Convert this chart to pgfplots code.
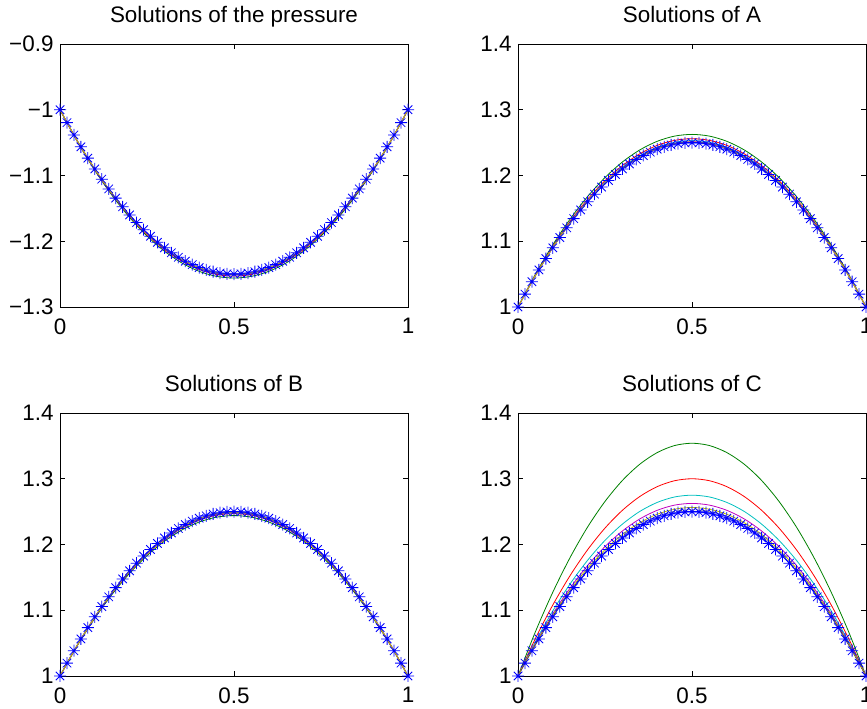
\documentclass[border=0pt]{standalone}
\usepackage{pgfplots}
\usepackage{pgfplotstable}
\pgfplotsset{compat=1.18}
\usepackage{fontspec}
\setmainfont{Liberation Sans}

\definecolor{mg}{rgb}{0,0.5,0}
\definecolor{mc}{rgb}{0,0.75,0.75}
\definecolor{mm}{rgb}{0.75,0,0.75}
\definecolor{my}{rgb}{0.75,0.75,0}
\definecolor{mk}{rgb}{0.25,0.25,0.25}

\pgfdeclareplotmark{mstar}{%
 \pgfpathmoveto{\pgfqpoint{-\pgfplotmarksize}{0pt}}\pgfpathlineto{\pgfqpoint{\pgfplotmarksize}{0pt}}%
 \pgfpathmoveto{\pgfqpoint{0pt}{-\pgfplotmarksize}}\pgfpathlineto{\pgfqpoint{0pt}{\pgfplotmarksize}}%
 \pgfpathmoveto{\pgfqpoint{-.7071\pgfplotmarksize}{-.7071\pgfplotmarksize}}\pgfpathlineto{\pgfqpoint{.7071\pgfplotmarksize}{.7071\pgfplotmarksize}}%
 \pgfpathmoveto{\pgfqpoint{-.7071\pgfplotmarksize}{.7071\pgfplotmarksize}}\pgfpathlineto{\pgfqpoint{.7071\pgfplotmarksize}{-.7071\pgfplotmarksize}}%
 \pgfusepathqstroke}

% exact solution (blue stars)
\pgfplotstableread{
x y
0 1
0.02 1.0196
0.04 1.0384
0.06 1.0564
0.08 1.0736
0.10 1.0900
0.12 1.1056
0.14 1.1204
0.16 1.1344
0.18 1.1476
0.20 1.1600
0.22 1.1716
0.24 1.1824
0.26 1.1924
0.28 1.2016
0.30 1.2100
0.32 1.2176
0.34 1.2244
0.36 1.2304
0.38 1.2356
0.40 1.2400
0.42 1.2436
0.44 1.2464
0.46 1.2484
0.48 1.2496
0.50 1.2500
0.52 1.2496
0.54 1.2484
0.56 1.2464
0.58 1.2436
0.60 1.2400
0.62 1.2356
0.64 1.2304
0.66 1.2244
0.68 1.2176
0.70 1.2100
0.72 1.2016
0.74 1.1924
0.76 1.1824
0.78 1.1716
0.80 1.1600
0.82 1.1476
0.84 1.1344
0.86 1.1204
0.88 1.1056
0.90 1.0900
0.92 1.0736
0.94 1.0564
0.96 1.0384
0.98 1.0196
1 1
}\exact

\pgfplotstableread{
x y
0 -1
0.02 -1.0196
0.04 -1.0384
0.06 -1.0564
0.08 -1.0736
0.10 -1.0900
0.12 -1.1056
0.14 -1.1204
0.16 -1.1344
0.18 -1.1476
0.20 -1.1600
0.22 -1.1716
0.24 -1.1824
0.26 -1.1924
0.28 -1.2016
0.30 -1.2100
0.32 -1.2176
0.34 -1.2244
0.36 -1.2304
0.38 -1.2356
0.40 -1.2400
0.42 -1.2436
0.44 -1.2464
0.46 -1.2484
0.48 -1.2496
0.50 -1.2500
0.52 -1.2496
0.54 -1.2484
0.56 -1.2464
0.58 -1.2436
0.60 -1.2400
0.62 -1.2356
0.64 -1.2304
0.66 -1.2244
0.68 -1.2176
0.70 -1.2100
0.72 -1.2016
0.74 -1.1924
0.76 -1.1824
0.78 -1.1716
0.80 -1.1600
0.82 -1.1476
0.84 -1.1344
0.86 -1.1204
0.88 -1.1056
0.90 -1.0900
0.92 -1.0736
0.94 -1.0564
0.96 -1.0384
0.98 -1.0196
1 -1
}\exactP

\pgfplotstableread{
x g r c m yl
0 -1 -1 -1 -1 -1
0.05 -1.0486 -1.0481 -1.0478 -1.0477 -1.0476
0.10 -1.0922 -1.0911 -1.0905 -1.0904 -1.0902
0.15 -1.1306 -1.1290 -1.1283 -1.1280 -1.1278
0.20 -1.1638 -1.1619 -1.1610 -1.1606 -1.1603
0.25 -1.1920 -1.1898 -1.1886 -1.1883 -1.1879
0.30 -1.2150 -1.2125 -1.2113 -1.2108 -1.2104
0.35 -1.2330 -1.2302 -1.2289 -1.2284 -1.2280
0.40 -1.2458 -1.2429 -1.2414 -1.2410 -1.2405
0.45 -1.2534 -1.2505 -1.2490 -1.2485 -1.2480
0.50 -1.2560 -1.2530 -1.2515 -1.2510 -1.2505
0.55 -1.2534 -1.2505 -1.2490 -1.2485 -1.2480
0.60 -1.2458 -1.2429 -1.2414 -1.2410 -1.2405
0.65 -1.2330 -1.2302 -1.2289 -1.2284 -1.2280
0.70 -1.2150 -1.2125 -1.2113 -1.2108 -1.2104
0.75 -1.1920 -1.1898 -1.1886 -1.1883 -1.1879
0.80 -1.1638 -1.1619 -1.1610 -1.1606 -1.1603
0.85 -1.1306 -1.1290 -1.1283 -1.1280 -1.1278
0.90 -1.0922 -1.0911 -1.0905 -1.0904 -1.0902
0.95 -1.0486 -1.0481 -1.0478 -1.0477 -1.0476
1 -1 -1 -1 -1 -1
}\tabP

\pgfplotstableread{
x g r c m yl
0 1 1 1 1 1
0.05 1.0499 1.0486 1.0481 1.0478 1.0477
0.10 1.0945 1.0922 1.0911 1.0905 1.0904
0.15 1.1339 1.1306 1.1290 1.1283 1.1280
0.20 1.1680 1.1638 1.1619 1.1610 1.1606
0.25 1.1969 1.1920 1.1898 1.1886 1.1883
0.30 1.2205 1.2150 1.2125 1.2113 1.2108
0.35 1.2389 1.2330 1.2302 1.2289 1.2284
0.40 1.2520 1.2458 1.2429 1.2414 1.2410
0.45 1.2599 1.2534 1.2505 1.2490 1.2485
0.50 1.2625 1.2560 1.2530 1.2515 1.2510
0.55 1.2599 1.2534 1.2505 1.2490 1.2485
0.60 1.2520 1.2458 1.2429 1.2414 1.2410
0.65 1.2389 1.2330 1.2302 1.2289 1.2284
0.70 1.2205 1.2150 1.2125 1.2113 1.2108
0.75 1.1969 1.1920 1.1898 1.1886 1.1883
0.80 1.1680 1.1638 1.1619 1.1610 1.1606
0.85 1.1339 1.1306 1.1290 1.1283 1.1280
0.90 1.0945 1.0922 1.0911 1.0905 1.0904
0.95 1.0499 1.0486 1.0481 1.0478 1.0477
1 1 1 1 1 1
}\tabA

\pgfplotstableread{
x g r c m yl
0 1 1 1 1 1
0.05 1.0464 1.0469 1.0471 1.0472 1.0473
0.10 1.0878 1.0889 1.0893 1.0895 1.0896
0.15 1.1244 1.1260 1.1265 1.1267 1.1270
0.20 1.1562 1.1581 1.1587 1.1590 1.1594
0.25 1.1830 1.1853 1.1860 1.1864 1.1868
0.30 1.2050 1.2075 1.2083 1.2087 1.2092
0.35 1.2220 1.2248 1.2257 1.2261 1.2266
0.40 1.2342 1.2371 1.2381 1.2386 1.2390
0.45 1.2416 1.2445 1.2455 1.2460 1.2465
0.50 1.2440 1.2470 1.2480 1.2485 1.2490
0.55 1.2416 1.2445 1.2455 1.2460 1.2465
0.60 1.2342 1.2371 1.2381 1.2386 1.2390
0.65 1.2220 1.2248 1.2257 1.2261 1.2266
0.70 1.2050 1.2075 1.2083 1.2087 1.2092
0.75 1.1830 1.1853 1.1860 1.1864 1.1868
0.80 1.1562 1.1581 1.1587 1.1590 1.1594
0.85 1.1244 1.1260 1.1265 1.1267 1.1270
0.90 1.0878 1.0889 1.0893 1.0895 1.0896
0.95 1.0464 1.0469 1.0471 1.0472 1.0473
1 1 1 1 1 1
}\tabB

\pgfplotstableread{
x g r c m yl k
0 1 1 1 1 1 1
0.05 1.0673 1.0570 1.0523 1.0499 1.0487 1.0481
0.10 1.1274 1.1080 1.0990 1.0945 1.0923 1.0911
0.15 1.1805 1.1530 1.1403 1.1339 1.1307 1.1290
0.20 1.2266 1.1920 1.1760 1.1680 1.1640 1.1619
0.25 1.2655 1.2250 1.2063 1.1969 1.1922 1.1898
0.30 1.2974 1.2520 1.2310 1.2205 1.2153 1.2125
0.35 1.3221 1.2730 1.2503 1.2389 1.2332 1.2302
0.40 1.3398 1.2880 1.2640 1.2520 1.2460 1.2429
0.45 1.3505 1.2970 1.2723 1.2599 1.2537 1.2505
0.50 1.3540 1.3000 1.2750 1.2625 1.2563 1.2530
0.55 1.3505 1.2970 1.2723 1.2599 1.2537 1.2505
0.60 1.3398 1.2880 1.2640 1.2520 1.2460 1.2429
0.65 1.3221 1.2730 1.2503 1.2389 1.2332 1.2302
0.70 1.2974 1.2520 1.2310 1.2205 1.2153 1.2125
0.75 1.2655 1.2250 1.2063 1.1969 1.1922 1.1898
0.80 1.2266 1.1920 1.1760 1.1680 1.1640 1.1619
0.85 1.1805 1.1530 1.1403 1.1339 1.1307 1.1290
0.90 1.1274 1.1080 1.0990 1.0945 1.0923 1.0911
0.95 1.0673 1.0570 1.0523 1.0499 1.0487 1.0481
1 1 1 1 1 1 1
}\tabC

\pgfplotsset{
  mstyle/.style={
    scale only axis, width=348bp, height=263bp,
    anchor=south west,
    xmin=0, xmax=1,
    xtick={0,0.5,1}, xticklabels={0,0.5,1},
    tick align=inside, major tick length=5bp,
    axis line style={line width=0.7bp, black},
    tick style={line width=0.7bp, black},
    every tick label/.append style={font=\fontsize{22.5}{26}\selectfont},
    xticklabel style={yshift=-8bp},
    yticklabel style={xshift=-3bp},
    title style={font=\fontsize{22.5}{26}\selectfont, at={(0.5,1)}, anchor=base, yshift=16bp},
    clip=false,
    every axis plot/.append style={line width=0.8bp},
  },
  exactstyle/.style={blue, mark=mstar, mark size=6bp, line width=0.8bp},
}

\begin{document}
\begin{tikzpicture}[x=1bp,y=1bp]
\path[use as bounding box] (0,0) rectangle (867,709);

% top left
\begin{axis}[mstyle, at={(60bp,402bp)},
  ymin=-1.3, ymax=-0.9, ytick={-1.3,-1.2,-1.1,-1,-0.9},
  yticklabels={−1.3,−1.2,−1.1,−1,−0.9},
  title={Solutions of the pressure}]
\addplot[exactstyle] table[x=x,y=y] {\exactP};
\addplot[mg, smooth, no markers] table[x=x,y=g] {\tabP};
\addplot[red, smooth, no markers] table[x=x,y=r] {\tabP};
\addplot[mc, smooth, no markers] table[x=x,y=c] {\tabP};
\addplot[mm, smooth, no markers] table[x=x,y=m] {\tabP};
\addplot[my, smooth, no markers] table[x=x,y=yl] {\tabP};
\end{axis}

% top right
\begin{axis}[mstyle, at={(518bp,402bp)},
  ymin=1, ymax=1.4, ytick={1,1.1,1.2,1.3,1.4},
  yticklabels={1,1.1,1.2,1.3,1.4},
  title={Solutions of A}]
\addplot[exactstyle] table[x=x,y=y] {\exact};
\addplot[mg, smooth, no markers] table[x=x,y=g] {\tabA};
\addplot[red, smooth, no markers] table[x=x,y=r] {\tabA};
\addplot[mc, smooth, no markers] table[x=x,y=c] {\tabA};
\addplot[mm, smooth, no markers] table[x=x,y=m] {\tabA};
\addplot[my, smooth, no markers] table[x=x,y=yl] {\tabA};
\end{axis}

% bottom left
\begin{axis}[mstyle, at={(60bp,33bp)},
  ymin=1, ymax=1.4, ytick={1,1.1,1.2,1.3,1.4},
  yticklabels={1,1.1,1.2,1.3,1.4},
  title={Solutions of B}]
\addplot[exactstyle] table[x=x,y=y] {\exact};
\addplot[mg, smooth, no markers] table[x=x,y=g] {\tabB};
\addplot[red, smooth, no markers] table[x=x,y=r] {\tabB};
\addplot[mc, smooth, no markers] table[x=x,y=c] {\tabB};
\addplot[mm, smooth, no markers] table[x=x,y=m] {\tabB};
\addplot[my, smooth, no markers] table[x=x,y=yl] {\tabB};
\end{axis}

% bottom right
\begin{axis}[mstyle, at={(518bp,33bp)},
  ymin=1, ymax=1.4, ytick={1,1.1,1.2,1.3,1.4},
  yticklabels={1,1.1,1.2,1.3,1.4},
  title={Solutions of C}]
\addplot[exactstyle] table[x=x,y=y] {\exact};
\addplot[mg, smooth, no markers] table[x=x,y=g] {\tabC};
\addplot[red, smooth, no markers] table[x=x,y=r] {\tabC};
\addplot[mc, smooth, no markers] table[x=x,y=c] {\tabC};
\addplot[mm, smooth, no markers] table[x=x,y=m] {\tabC};
\addplot[my, smooth, no markers] table[x=x,y=yl] {\tabC};
\addplot[mk, densely dotted, smooth, no markers] table[x=x,y=k] {\tabC};
\end{axis}
\end{tikzpicture}
\end{document}
